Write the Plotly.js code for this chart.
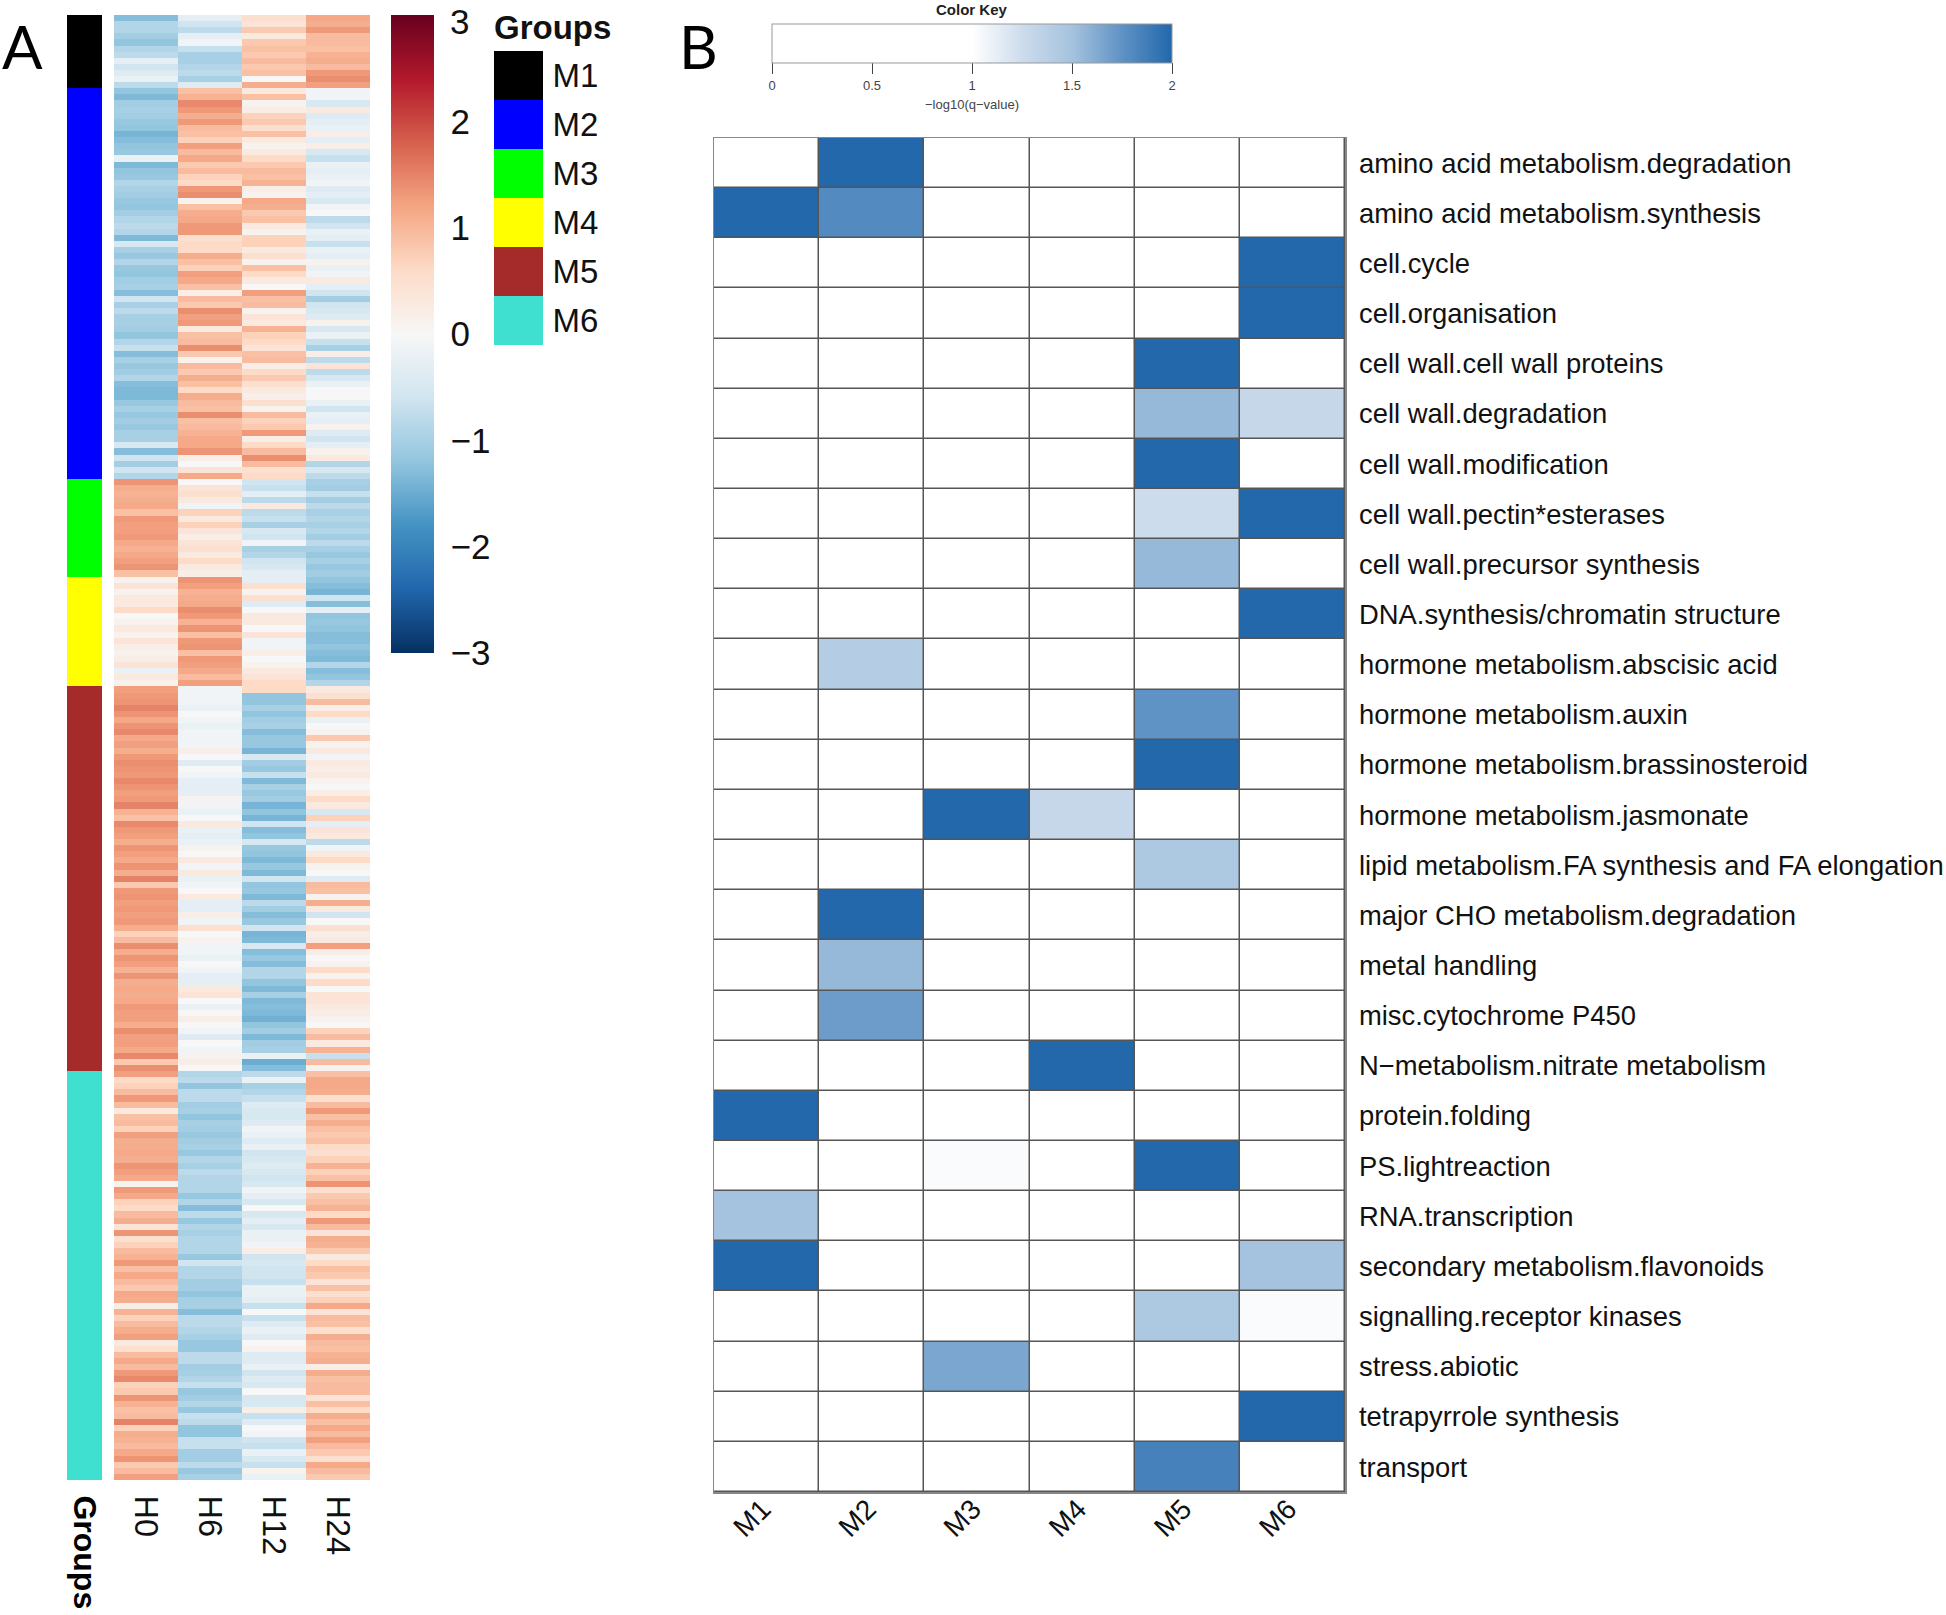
<!DOCTYPE html>
<html>
<head>
<meta charset="utf-8">
<script src="https://cdn.plot.ly/plotly-3.0.1.min.js"></script>
<style>
  html, body { margin: 0; padding: 0; background: #fff; }
  #chart { width: 1946px; height: 1615px; }
</style>
</head>
<body>
<div id="chart"></div>
<script>
// panel A, rows per group
let GROUPS = ["M1", "M2", "M3", "M4", "M5", "M6"]
let GROUP_SIZES = [12, 64, 16, 18, 63, 67]
let GROUP_COLORS = ["#000000", "#0000ff", "#00ff00", "#ffff00", "#a52a2a", "#40e0d0"]
let HOURS = ["H0", "H6", "H12", "H24"]

let H0 = [
  -1.3,-0.9,-0.9,-1.05,-1.2,-0.9,-0.8,-0.3,-0.6,-0.4,-0.2,-0.8,
  -1.2,-1.35,-1.05,-1.0,-1.05,-1.15,-1.2,-1.4,-1.3,-1.2,-1.15,-0.2,-1.35,-1.2,-1.15,-0.9,-1.0,-1.05,-1.15,-1.2,-1.05,-0.9,-0.8,-0.9,-1.35,-0.5,-1.0,
  -1.15,-0.9,-1.15,-1.2,-1.05,-1.0,-1.3,-0.6,-1.0,-0.8,-1.0,-1.0,-1.05,-1.2,-0.9,-0.7,-1.3,-1.0,-1.15,-1.05,-0.9,-1.3,-1.35,-1.35,-1.15,-1.0,-1.15,-1.05,-1.15,-1.0,-1.0,-0.5,-1.3,-0.6,-1.05,-0.6,-0.9,
  1.35,1.1,1.05,1.1,1.15,0.9,1.3,1.25,1.25,1.3,1.15,1.05,1.15,1.25,1.35,0.9,
  0.1,0.4,0.1,0.3,0.3,0.6,0.0,0.1,0.3,0.1,0.4,0.2,0.1,0.2,0.4,-0.2,0.3,0.1,
  1.25,1.3,1.35,1.5,1.35,1.15,1.35,1.45,
  1.15,1.25,1.1,1.3,1.4,1.35,1.3,1.45,1.35,1.25,1.3,1.5,1.05,0.9,1.45,1.3,1.25,1.1,1.35,1.25,1.15,1.35,1.1,1.5,0.8,1.3,1.35,1.25,1.3,1.25,1.3,1.1,0.7,0.95,1.4,1.1,1.35,1.25,1.05,
  1.35,1.1,1.15,1.1,1.15,1.3,1.25,1.25,1.1,1.4,1.25,1.25,1.15,1.45,0.8,1.4,
  1.25,0.6,0.7,0.95,1.3,0.95,0.3,0.9,0.95,0.7,1.25,1.1,1.1,1.15,1.1,1.35,1.25,1.15,0.1,1.3,1.15,0.7,0.6,0.95,1.1,0.4,
  1.35,0.5,0.7,0.95,1.05,1.3,0.9,1.15,0.95,0.8,1.15,1.1,0.2,1.05,0.7,0.95,1.1,1.25,0.3,0.5,0.95,1.15,0.95,1.3,1.45,0.7,0.8,1.35,1.05,0.9,0.95,1.5,0.7,1.1,1.05,0.95,1.15,1.35,0.8,0.95,1.25
]

let H6 = [
  -0.3,-0.6,-0.8,-0.3,-0.1,-0.7,-1.0,-1.0,-0.9,-0.8,-1.0,-0.4,
  0.9,1.05,1.45,1.3,1.1,1.3,0.95,0.9,0.7,1.25,0.95,1.15,0.8,0.95,0.7,0.6,1.3,1.4,0.1,0.9,1.1,1.15,1.3,1.3,0.5,0.6,0.6,
  1.1,0.9,0.7,1.25,1.15,0.9,0.2,0.95,0.8,1.4,1.25,1.3,0.3,0.9,0.95,1.4,0.8,0.1,0.95,0.8,1.1,0.9,0.6,1.1,0.95,0.9,1.4,0.9,0.95,1.05,1.15,1.15,1.35,0.2,0.0,0.4,1.15,
  0.0,0.4,0.5,0.3,-0.1,0.7,0.3,0.7,0.4,0.2,0.4,0.5,0.3,0.6,0.3,0.2,
  1.35,1.25,1.05,1.1,1.15,1.4,1.3,1.05,1.35,0.9,1.3,1.35,0.9,1.3,1.25,1.15,0.95,1.25,
  -0.1,-0.1,-0.1,-0.2,0.0,-0.1,-0.2,-0.1,
  -0.1,-0.1,0.2,0.0,-0.4,0.0,-0.1,-0.3,-0.3,-0.3,0.1,-0.1,-0.2,0.0,0.3,-0.2,-0.3,-0.2,0.1,0.0,0.3,-0.1,0.3,-0.2,-0.1,0.0,0.3,-0.3,-0.3,0.2,-0.1,0.5,0.0,0.1,-0.1,-0.1,-0.2,0.0,-0.1,
  -0.3,-0.3,0.3,0.4,0.0,-0.2,0.0,0.2,0.0,-0.1,-0.4,0.0,-0.1,0.1,0.2,0.0,
  -0.9,-0.8,-1.2,-0.8,-0.8,-1.05,-1.0,-1.2,-1.0,-1.05,-1.15,-1.05,-1.0,-1.15,-0.9,-1.0,-0.8,-0.9,-0.9,-0.9,-1.15,-0.9,-1.3,-0.8,-1.15,-0.9,
  -1.0,-0.9,-0.9,-0.9,-1.15,-0.6,-0.9,-0.9,-1.05,-1.05,-1.2,-1.0,-1.0,-1.3,-0.8,-0.8,-0.9,-1.0,-1.15,-1.15,-0.8,-0.8,-1.05,-1.0,-0.9,-0.7,-1.15,-1.05,-0.9,-1.15,-0.7,-0.8,-1.2,-1.2,-0.7,-0.7,-1.05,-1.05,-0.8,-1.15,-1.0
]

let H12 = [
  0.5,0.4,0.8,0.3,0.8,0.9,0.8,0.95,0.8,0.9,0.0,1.1,
  0.3,0.9,0.1,0.2,0.7,0.8,0.5,0.9,0.3,0.1,0.3,0.6,0.8,0.95,0.9,1.05,0.2,0.1,1.15,1.1,0.8,0.9,0.3,0.1,0.7,0.7,0.3,
  0.5,0.1,0.9,0.6,0.3,0.0,1.25,0.9,0.95,0.1,0.4,0.3,1.05,0.7,0.6,0.4,0.9,0.95,0.2,0.6,0.8,0.5,0.3,0.2,0.5,0.1,0.95,0.7,0.8,1.3,0.2,0.6,0.95,1.4,0.95,0.5,0.6,
  -0.6,-0.7,-0.3,-0.8,0.3,-0.8,-0.7,-1.0,-0.5,-0.6,-0.1,-1.0,-0.9,-0.6,-0.5,-0.3,
  -0.3,0.5,0.1,0.5,-0.4,0.0,0.3,0.3,0.0,0.4,-0.1,-0.1,0.2,0.0,0.1,0.3,0.4,0.6,
  0.6,-1.2,-1.2,-1.0,-1.2,-1.05,-1.0,-1.3,
  -1.15,-1.15,-1.4,-0.5,-1.05,-1.15,-0.7,-1.35,-1.0,-1.15,-1.05,-1.4,-1.2,-1.4,-0.6,-1.3,-1.2,-0.5,-1.15,-1.2,-1.35,-1.15,-1.35,-0.6,-1.2,-1.15,-1.35,-0.8,-1.05,-1.3,-1.15,-0.6,-1.4,-1.35,-0.5,-1.3,-1.15,-1.3,-0.9,
  -0.9,-1.2,-1.35,-1.0,-1.35,-1.3,-1.35,-1.45,-1.2,-1.05,-1.35,-1.05,-1.0,-0.2,-1.5,-1.3,
  -0.8,-0.2,-1.0,-0.9,-0.7,-0.4,-0.5,-0.5,-0.4,-0.1,-0.2,-0.4,-0.2,-0.6,-0.5,-0.4,-0.5,-0.6,-0.5,-0.1,-0.3,-0.5,0.0,-0.5,-0.3,-0.5,
  -0.2,-0.2,-0.1,0.2,-0.6,-0.5,-0.6,-0.6,-0.7,-0.2,-0.2,-0.3,-0.7,0.0,-0.7,-0.4,-0.2,-0.4,0.0,0.1,-0.4,-0.4,-0.2,-0.6,-0.4,-0.5,0.0,-0.5,-0.5,0.2,-0.7,-0.4,0.0,-0.1,-0.6,-0.7,-0.2,-0.5,-0.7,0.1,-0.2
]

let H24 = [
  1.15,1.1,1.3,0.95,0.95,0.9,1.05,1.1,0.95,1.3,1.4,1.25,
  -0.1,-0.1,-0.5,0.3,-0.4,-0.3,-0.2,0.2,-0.3,0.2,-0.5,-0.7,-0.2,-0.3,-0.2,-0.1,-0.4,-0.3,-0.5,-0.1,0.0,-0.8,-0.6,-0.2,-0.3,-0.7,-0.2,
  -0.3,0.1,-0.2,-0.1,0.3,-0.3,-0.6,-1.05,-0.6,-0.5,-0.4,0.1,-0.5,-0.2,-0.7,-1.0,0.2,-0.8,0.4,-0.8,-0.5,-0.2,0.0,0.0,-0.2,-0.6,-0.2,-0.3,0.1,-0.4,-0.6,-0.3,0.1,0.3,-0.9,-0.5,-0.8,
  -1.0,-1.05,-0.7,-1.05,-0.8,-1.0,-0.9,-1.0,-0.9,-1.05,-0.8,-1.0,-1.15,-1.0,-1.15,-1.05,
  -1.2,-1.3,-1.4,-0.6,-1.3,-0.3,-1.2,-1.15,-1.2,-1.3,-1.3,-1.2,-1.3,-1.35,-0.9,-1.3,-1.2,-0.9,
  0.3,0.5,0.95,0.2,0.6,-0.2,0.0,0.1,
  0.8,0.1,0.3,-0.1,0.3,0.2,0.3,0.1,0.0,0.2,0.6,0.3,-0.5,0.7,-0.3,0.4,0.3,-0.8,-0.1,0.3,0.6,0.1,0.0,-0.4,0.95,0.9,0.1,1.1,0.3,-0.6,0.0,0.5,0.2,0.3,1.25,0.2,0.0,0.1,0.6,
  0.1,0.6,0.0,0.4,0.4,0.3,0.2,0.1,0.0,0.7,0.95,0.3,1.05,-0.7,0.95,0.1,
  0.9,1.15,1.15,1.1,0.5,0.95,1.3,0.9,1.1,0.9,0.8,0.9,0.6,0.5,0.7,1.05,0.7,0.9,1.35,0.5,0.8,0.9,1.05,0.6,1.3,0.95,
  0.4,1.1,1.05,0.8,0.3,0.6,0.9,0.8,0.4,0.9,0.5,0.7,1.15,0.4,0.95,0.9,0.5,1.1,0.95,0.9,1.05,1.1,0.2,1.1,0.9,0.95,0.95,0.4,0.9,0.6,1.1,0.9,1.15,0.95,1.25,0.95,0.8,0.5,1.15,0.95,0.8
]

// panel B
let MODULES = ["M1", "M2", "M3", "M4", "M5", "M6"]
let TERMS = [
  "amino acid metabolism.degradation",
  "amino acid metabolism.synthesis",
  "cell.cycle",
  "cell.organisation",
  "cell wall.cell wall proteins",
  "cell wall.degradation",
  "cell wall.modification",
  "cell wall.pectin*esterases",
  "cell wall.precursor synthesis",
  "DNA.synthesis/chromatin structure",
  "hormone metabolism.abscisic acid",
  "hormone metabolism.auxin",
  "hormone metabolism.brassinosteroid",
  "hormone metabolism.jasmonate",
  "lipid metabolism.FA synthesis and FA elongation",
  "major CHO metabolism.degradation",
  "metal handling",
  "misc.cytochrome P450",
  "N\u2212metabolism.nitrate metabolism",
  "protein.folding",
  "PS.lightreaction",
  "RNA.transcription",
  "secondary metabolism.flavonoids",
  "signalling.receptor kinases",
  "stress.abiotic",
  "tetrapyrrole synthesis",
  "transport"
]
let Q_VALUES = [
  [0, 2, 0, 0, 0, 0],
  [2, 1.8, 0, 0, 0, 0],
  [0, 0, 0, 0, 0, 2],
  [0, 0, 0, 0, 0, 2],
  [0, 0, 0, 0, 2, 0],
  [0, 0, 0, 0, 1.55, 1.3],
  [0, 0, 0, 0, 2, 0],
  [0, 0, 0, 0, 1.25, 2],
  [0, 0, 0, 0, 1.55, 0],
  [0, 0, 0, 0, 0, 2],
  [0, 1.4, 0, 0, 0, 0],
  [0, 0, 0, 0, 1.75, 0],
  [0, 0, 0, 0, 2, 0],
  [0, 0, 2, 1.3, 0, 0],
  [0, 0, 0, 0, 1.45, 0],
  [0, 2, 0, 0, 0, 0],
  [0, 1.55, 0, 0, 0, 0],
  [0, 1.7, 0, 0, 0, 0],
  [0, 0, 0, 2, 0, 0],
  [2, 0, 0, 0, 0, 0],
  [0, 0, 1.03, 0, 2, 0],
  [1.5, 0, 0, 0, 0, 0],
  [2, 0, 0, 0, 0, 1.5],
  [0, 0, 0, 0, 1.45, 1.03],
  [0, 0, 1.65, 0, 0, 0],
  [0, 0, 0, 0, 0, 2],
  [0, 0, 0, 0, 1.85, 0]
]

let FONT = "Liberation Sans, Arial, sans-serif"
let WIDTH = 1946
let HEIGHT = 1615

let RDBU = [
  [0, "#053061"], [0.1, "#2166ac"], [0.2, "#4393c3"], [0.3, "#92c5de"], [0.4, "#d1e5f0"],
  [0.5, "#f7f7f7"], [0.6, "#fddbc7"], [0.7, "#f4a582"], [0.8, "#d6604d"], [0.9, "#b2182b"], [1, "#67001f"]
]
let KEY_SCALE = [
  [0, "#ffffff"], [0.5, "#ffffff"], [0.625, "#cddcec"], [0.75, "#a5c3de"], [0.875, "#5f92c5"], [1, "#2268ab"]
]

function x_domain(left, right) { return [left / WIDTH, right / WIDTH] }
function y_domain(top, bottom) { return [1 - bottom / HEIGHT, 1 - top / HEIGHT] }

function group_scale() {
  let scale = []
  GROUP_COLORS.forEach((color, i) => {
    scale.push([i / GROUP_COLORS.length, color])
    scale.push([(i + 1) / GROUP_COLORS.length, color])
  })
  return scale
}

function hidden_axis(domain, extra) {
  return Object.assign({ domain: domain, showgrid: false, zeroline: false, showticklabels: false, ticks: "" }, extra)
}

function init_graph() {
  let row_groups = []
  GROUP_SIZES.forEach((size, g) => {
    for (let i = 0; i < size; i++) row_groups.push([g])
  })
  let rows = H0.map((v, i) => [H0[i], H6[i], H12[i], H24[i]])
  let row_index = rows.map((r, i) => i)
  let row_range = [rows.length - 0.5, -0.5]

  let data = [
    {
      type: "heatmap", xaxis: "x", yaxis: "y", x: ["<b>Groups</b>"], y: row_index, z: row_groups,
      zmin: 0, zmax: GROUPS.length - 1, colorscale: group_scale(), showscale: false
    },
    {
      type: "heatmap", xaxis: "x2", yaxis: "y2", x: HOURS, y: row_index, z: rows,
      zmin: -3, zmax: 3, colorscale: RDBU,
      colorbar: {
        x: 391 / WIDTH, xanchor: "left", xpad: 0,
        y: 1 - 15 / HEIGHT, yanchor: "top", ypad: 0,
        len: 638, lenmode: "pixels", thickness: 43, thicknessmode: "pixels",
        outlinewidth: 0, ticks: "outside", ticklen: 10, tickcolor: "rgba(0,0,0,0)",
        tickvals: [-3, -2, -1, 0, 1, 2],
        tickfont: { family: FONT, size: 35, color: "#111" }
      }
    },
    {
      type: "heatmap", xaxis: "x3", yaxis: "y3", x: ["key"], y: GROUPS, z: GROUPS.map((g, i) => [i]),
      zmin: 0, zmax: GROUPS.length - 1, colorscale: group_scale(), showscale: false
    },
    {
      type: "heatmap", xaxis: "x4", yaxis: "y4", x: MODULES, y: TERMS, z: Q_VALUES,
      zmin: 0, zmax: 2, colorscale: KEY_SCALE, xgap: 1.5, ygap: 1.5,
      colorbar: {
        orientation: "h",
        x: 772 / WIDTH, xanchor: "left", xpad: 0,
        y: 1 - 24 / HEIGHT, yanchor: "top", ypad: 0,
        len: 400, lenmode: "pixels", thickness: 39, thicknessmode: "pixels",
        outlinewidth: 1, outlinecolor: "#999",
        ticks: "outside", ticklen: 11, tickwidth: 1, tickcolor: "#444",
        tickvals: [0, 0.5, 1, 1.5, 2], ticktext: ["0", "0.5", "1", "1.5", "2"],
        tickfont: { family: FONT, size: 13, color: "#444" }
      }
    }
  ]

  let x_label = { type: "category", showgrid: false, zeroline: false, ticks: "outside", ticklen: 8, tickcolor: "rgba(0,0,0,0)", tickangle: 90 }

  let layout = {
    width: WIDTH,
    height: HEIGHT,
    margin: { l: 0, r: 0, t: 0, b: 0 },
    paper_bgcolor: "#ffffff",
    plot_bgcolor: "#555555",
    font: { family: FONT, color: "#111" },
    showlegend: false,
    xaxis: Object.assign({ domain: x_domain(67, 102), tickfont: { family: FONT, size: 32, color: "#000" } }, x_label),
    yaxis: hidden_axis(y_domain(15, 1480), { range: row_range }),
    xaxis2: Object.assign({ domain: x_domain(114, 370), anchor: "y2", tickfont: { family: FONT, size: 32.5, color: "#111" } }, x_label),
    yaxis2: hidden_axis(y_domain(15, 1480), { range: row_range, anchor: "x2" }),
    xaxis3: hidden_axis(x_domain(494, 543), { anchor: "y3" }),
    yaxis3: {
      domain: y_domain(51, 345), anchor: "x3", side: "right", type: "category", autorange: "reversed",
      showgrid: false, zeroline: false, ticks: "outside", ticklen: 2, tickcolor: "rgba(0,0,0,0)",
      tickfont: { family: FONT, size: 33, color: "#111" }
    },
    xaxis4: {
      domain: x_domain(714, 1345), anchor: "y4", type: "category", showgrid: false, zeroline: false,
      showline: true, mirror: true, linecolor: "#888", linewidth: 1.5,
      ticks: "", ticklabelstandoff: -12, ticklabelshift: -4, tickangle: -45,
      tickfont: { family: FONT, size: 28, color: "#111" }
    },
    yaxis4: {
      domain: y_domain(138, 1492), anchor: "x4", side: "right", type: "category", autorange: "reversed",
      showgrid: false, zeroline: false, showline: true, mirror: true, linecolor: "#888", linewidth: 1.5,
      ticks: "outside", ticklen: 7, tickcolor: "rgba(0,0,0,0)",
      tickfont: { family: FONT, size: 27.4, color: "#111" }
    },
    annotations: [
      { text: "A", xref: "paper", yref: "paper", x: 0, y: 1 - 46 / HEIGHT, xanchor: "left", yanchor: "middle", showarrow: false, font: { family: "Lato", size: 60, color: "#000" } },
      { text: "B", xref: "paper", yref: "paper", x: 677 / WIDTH, y: 1 - 46 / HEIGHT, xanchor: "left", yanchor: "middle", showarrow: false, font: { family: "Lato", size: 60, color: "#000" } },
      { text: "<b>Groups</b>", xref: "paper", yref: "paper", x: 492 / WIDTH, y: 1 - 28 / HEIGHT, xanchor: "left", yanchor: "middle", showarrow: false, font: { family: FONT, size: 33, color: "#111" } },
      { text: "3", xref: "paper", yref: "paper", x: 448 / WIDTH, y: 1 - 22 / HEIGHT, xanchor: "left", yanchor: "middle", showarrow: false, font: { family: FONT, size: 35, color: "#111" } },
      { text: "<b>Color Key</b>", xref: "paper", yref: "paper", x: 972 / WIDTH, y: 1 - 10 / HEIGHT, xanchor: "center", yanchor: "middle", showarrow: false, font: { family: FONT, size: 15, color: "#222" } },
      { text: "\u2212log10(q\u2212value)", xref: "paper", yref: "paper", x: 972 / WIDTH, y: 1 - 105 / HEIGHT, xanchor: "center", yanchor: "middle", showarrow: false, font: { family: FONT, size: 13, color: "#444" } }
    ]
  }

  Plotly.newPlot("chart", data, layout, { displayModeBar: false, staticPlot: true })
}

init_graph()
</script>
</body>
</html>
